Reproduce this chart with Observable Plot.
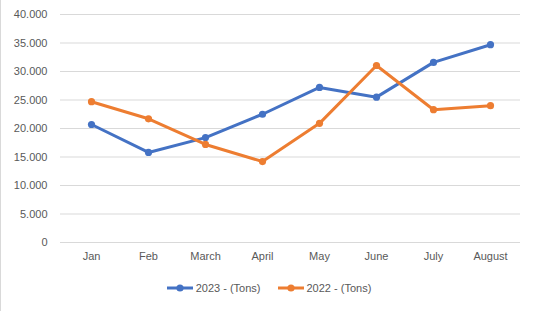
<!DOCTYPE html>
<html>
<head>
<meta charset="utf-8">
<script src="https://cdn.jsdelivr.net/npm/d3@7"></script>
<script src="https://cdn.jsdelivr.net/npm/@observablehq/plot@0.6"></script>
<style>
  html, body { margin: 0; padding: 0; background: #fff; }
  #wrap { width: 537px; height: 311px; position: relative; overflow: hidden; font-family: "Liberation Sans", Arial, sans-serif; }
  #border { position: absolute; left: 0; top: 0; width: 1px; height: 311px; background: #d9d9d9; }
  #chart { position: absolute; left: 0; top: 0; }
  #legend { position: absolute; top: 282px; left: 0; width: 537px; display: flex; justify-content: center; gap: 16px; font-size: 11px; color: #595959; }
  .item { display: flex; align-items: center; gap: 2px; }
</style>
</head>
<body>
<div id="wrap"><div id="chart"></div><div id="border"></div><div id="legend"></div></div>
<script>
const months = ["Jan", "Feb", "March", "April", "May", "June", "July", "August"];
const values2023 = [20700, 15800, 18400, 22500, 27200, 25500, 31600, 34700];
const values2022 = [24700, 21700, 17200, 14200, 20900, 31050, 23300, 24000];
const seriesNames = ["2023 - (Tons)", "2022 - (Tons)"];
const seriesColors = ["#4472C4", "#ED7D31"];
const yTicks = [0, 5000, 10000, 15000, 20000, 25000, 30000, 35000, 40000];

const data = [];
months.forEach((m, i) => {
  data.push({month: m, value: values2023[i], series: seriesNames[0]});
  data.push({month: m, value: values2022[i], series: seriesNames[1]});
});

const fmt = d3.formatLocale({decimal: ",", thousands: ".", grouping: [3], currency: ["", ""]}).format(",.0f");

const chart = Plot.plot({
  width: 537,
  height: 270,
  marginLeft: 60,
  marginRight: 17,
  marginTop: 14,
  marginBottom: 28,
  style: {fontFamily: "Liberation Sans, Arial, sans-serif", fontSize: "11px", color: "#595959", background: "transparent"},
  x: {type: "point", domain: months, padding: 0.5, label: null},
  y: {domain: [0, 40000], ticks: yTicks, label: null},
  color: {domain: seriesNames, range: seriesColors},
  marks: [
    Plot.gridY(yTicks, {stroke: "#d9d9d9", strokeOpacity: 1, strokeWidth: 1}),
    Plot.axisY(yTicks, {tickSize: 0, tickPadding: 13, tickFormat: fmt, label: null, fill: "#595959"}),
    Plot.axisX({tickSize: 0, tickPadding: 10, label: null, fill: "#595959"}),
    Plot.line(data, {x: "month", y: "value", stroke: "series", strokeWidth: 3, strokeLinejoin: "round", strokeLinecap: "round"}),
    Plot.dot(data, {x: "month", y: "value", fill: "series", r: 3.6})
  ]
});
document.getElementById("chart").appendChild(chart);

const legend = document.getElementById("legend");
seriesNames.forEach((name, i) => {
  const item = document.createElement("div");
  item.className = "item";
  item.innerHTML = `<svg width="28" height="10"><line x1="1" y1="5" x2="27" y2="5" stroke="${seriesColors[i]}" stroke-width="3"/><circle cx="14" cy="5" r="3.6" fill="${seriesColors[i]}"/></svg><span>${name}</span>`;
  legend.appendChild(item);
});
</script>
</body>
</html>
